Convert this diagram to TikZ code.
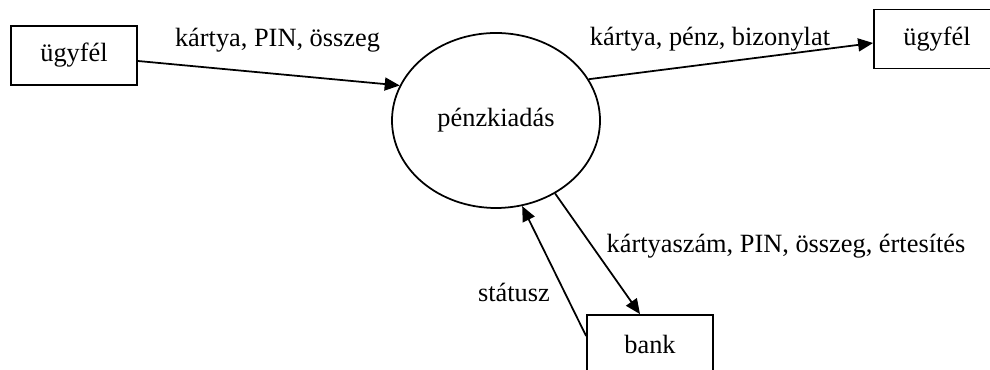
\documentclass[tikz,border=0pt]{standalone}
\usepackage{fontspec}
\setmainfont{Liberation Serif}
\usetikzlibrary{arrows.meta,shapes.geometric}
\begin{document}
\begin{tikzpicture}[
    font=\fontsize{15}{18}\selectfont,
    entity/.style={rectangle, draw, line width=1pt, minimum width=2.52cm, minimum height=1.18cm},
    process/.style={ellipse, draw, line width=1pt, inner sep=0pt, minimum width=4.16cm, minimum height=3.5cm},
    flow/.style={-{Triangle[length=0.3cm,width=0.26cm]}, line width=1pt},
    flowlabel/.style={anchor=base, inner sep=0pt},
]
    \useasboundingbox (0,0) rectangle (19.8,7.4);
    \clip (0,0) rectangle (19.8,7.4);

    % terminators and process
    \node[entity] (client) at (1.48, 6.29) {ügyfél};
    \node[entity] (clientout) at (18.74, 6.62) {ügyfél};
    \node[entity] (bank) at (13.0, 0.51) {bank};
    \node[process] (payout) at (9.92, 4.99) {pénzkiadás};

    % data flows
    \draw[flow] ([yshift=-0.11cm]client.east) -- (payout.160);
    \node[flowlabel] (lin) at (5.55, 6.46) {kártya, PIN, összeg};

    \draw[flow] (payout.24) -- ([yshift=-0.08cm]clientout.west);
    \node[flowlabel] (lout) at (14.2, 6.48) {kártya, pénz, bizonylat};

    \draw[flow] (payout.-51) -- ([xshift=-0.2cm]bank.north);
    \node[flowlabel] (lreq) at (15.72, 2.34) {kártyaszám, PIN, összeg, értesítés};

    \draw[flow] ([yshift=0.17cm]bank.west) -- (payout.-73);
    \node[flowlabel] (lstat) at (10.28, 1.36) {státusz};
\end{tikzpicture}
\end{document}
